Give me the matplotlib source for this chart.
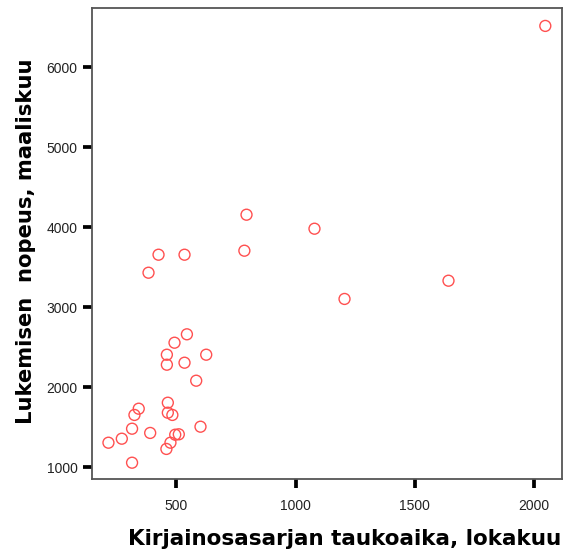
import matplotlib
matplotlib.use("Agg")
import matplotlib.pyplot as plt

plt.rcParams['font.family'] = ['Liberation Sans', 'DejaVu Sans']

# Data
pause_time_oct = [544, 492, 460, 625, 460, 534, 583, 342, 324, 464, 464, 483,
                  314, 390, 601, 271, 215, 495, 510, 475, 458, 314,
                  794, 1079, 425, 534, 785, 383, 1641, 1205, 2047]
reading_speed_mar = [2662, 2557, 2407, 2407, 2282, 2307, 2082, 1732, 1654, 1807, 1682, 1654,
                     1482, 1429, 1507, 1357, 1307, 1407, 1412, 1307, 1229, 1057,
                     4157, 3982, 3657, 3657, 3707, 3432, 3332, 3104, 6517]
x_ticks = [500, 1000, 1500, 2000]
y_ticks = [1000, 2000, 3000, 4000, 5000, 6000]
x_label = "Kirjainosasarjan taukoaika, lokakuu"
y_label = "Lukemisen  nopeus, maaliskuu"

fig = plt.figure(figsize=(5.68, 5.60), dpi=100)
ax = fig.add_axes([92/568, 1 - 478.7/560, (562-92)/568, (478.7-8)/560])

ax.scatter(pause_time_oct, reading_speed_mar, s=62, facecolors='none',
           edgecolors='#ff5050', linewidths=1.0, zorder=3)

ax.set_xlim(146, 2117)
ax.set_ylim(857, 6741)
ax.set_xticks(x_ticks)
ax.set_yticks(y_ticks)
ax.set_xticklabels([str(v) for v in x_ticks], fontsize=10, color='#222222')
ax.set_yticklabels([str(v) for v in y_ticks], fontsize=10, color='#222222')
ax.tick_params(axis='both', direction='out', length=6.5, width=2.7, color='black')
ax.tick_params(axis='x', pad=8)
ax.tick_params(axis='y', pad=4)

for sp in ax.spines.values():
    sp.set_color('#555555')
    sp.set_linewidth(1.3)

fig.text(345/568, 1 - 539/560, x_label, fontsize=15.5, fontweight='bold',
         family=['DejaVu Sans'], ha='center', va='center', color='black')
fig.text(26/568, 1 - 241/560, y_label, fontsize=15.2, fontweight='bold',
         family=['DejaVu Sans'], ha='center', va='center', rotation=90, color='black')

fig.savefig('out.png', dpi=100)
